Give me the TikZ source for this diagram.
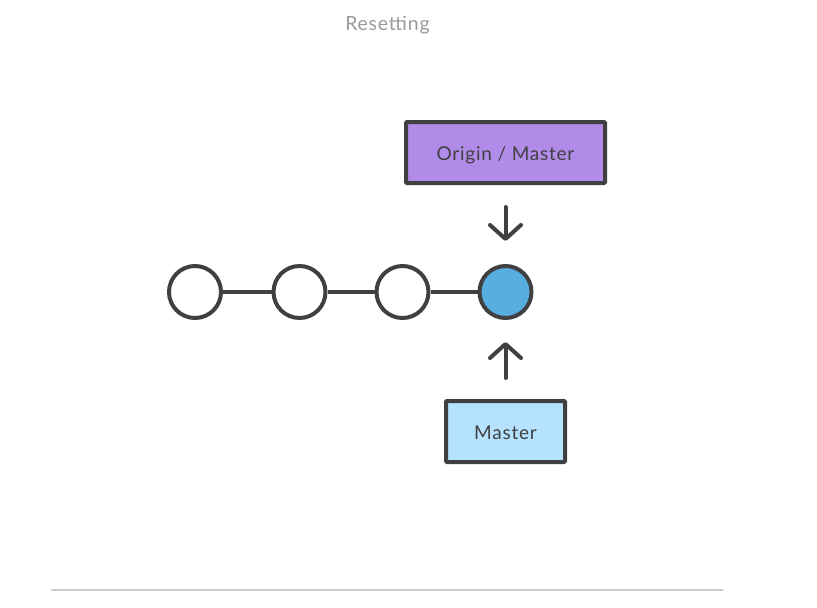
\documentclass[tikz,border=0pt]{standalone}
\usepackage{fontspec}
\setmainfont{Lato}[LetterSpace=4]
\usetikzlibrary{arrows.meta}
\definecolor{ink}{HTML}{404040}
\definecolor{purp}{HTML}{B08BE8}
\definecolor{lblue}{HTML}{B5E2FF}
\definecolor{cblue}{HTML}{59AEE1}
\definecolor{titlegray}{HTML}{9A9A9A}
\definecolor{rulegray}{HTML}{CCCCCC}
\begin{document}
\begin{tikzpicture}[x=1pt,y=-1pt,
  commit/.style={circle,draw=ink,line width=4pt,minimum size=52pt,inner sep=0pt,fill=white},
  branchbox/.style={draw=ink,line width=4pt,rounded corners=1pt,inner sep=0pt,text height=16pt,text depth=0pt,font=\fontsize{19}{22}\selectfont,text=ink},
  link/.style={draw=ink,line width=3.5pt},
  pointer/.style={draw=ink,line width=4pt,line cap=round,-{Straight Barb[length=14pt,width=31pt,line cap=round,line join=round]}}
]
\useasboundingbox (0,0) rectangle (817,608);
\node[font=\fontsize{19.5}{22}\selectfont,text=titlegray] (title) at (387.5,25) {Resetting};
\node[commit] (c1) at (195,292) {};
\node[commit] (c2) at (299.5,292) {};
\node[commit] (c3) at (402.5,292) {};
\node[commit,fill=cblue] (c4) at (505.5,292) {};
\draw[link] (c1) -- (c2);
\draw[link] (c2) -- (c3);
\draw[link] (c3) -- (c4);
\node[branchbox,fill=purp,minimum width=199pt,minimum height=61pt] (origin) at (505.5,152.5) {Origin / Master};
\node[branchbox,fill=lblue,minimum width=119pt,minimum height=61pt] (master) at (505.5,431.5) {Master};
\draw[pointer] ([yshift=-22pt]origin.south) -- ([yshift=23pt]c4.north);
\draw[pointer] ([yshift=21pt]master.north) -- ([yshift=-22pt]c4.south);
\coordinate (rl) at (51,590);
\coordinate (rr) at (723,590);
\draw[rulegray,line width=1.5pt] (rl) -- (rr);
\end{tikzpicture}
\end{document}
